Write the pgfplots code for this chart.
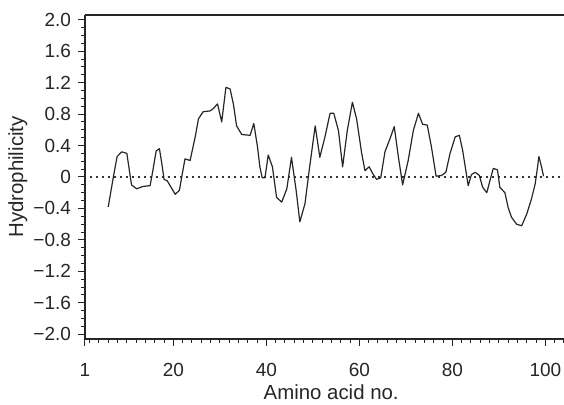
\documentclass[border=0pt]{standalone}
\usepackage{pgfplots}
\pgfplotsset{compat=1.18}
\usepackage{fontspec}
\setmainfont{Liberation Sans}

\begin{document}
\begin{tikzpicture}
\begin{axis}[
  scale only axis, width=239.5pt, height=162pt,
  at={(0,0)}, anchor=south west,
  xmin=1, xmax=104, ymin=-2.06, ymax=2.06,
  axis x line*=bottom, axis y line*=left,
  axis line style={line width=0.7pt, black!85},
  tick align=outside,
  major tick length=3.5pt, minor tick length=2pt,
  every tick/.style={black!85, line width=0.5pt},
  xtick={1,20,40,60,80,100},
  xticklabels={1,20,40,60,80,100},
  minor xtick={2,4,...,104},
  ytick={-2,-1.6,-1.2,-0.8,-0.4,0,0.4,0.8,1.2,1.6,2},
  yticklabels={−2.0,−1.6,−1.2,−0.8,−0.4,0,0.4,0.8,1.2,1.6,2.0},
  minor y tick num=3,
  tick label style={font=\fontsize{9.5}{11}\selectfont, text=black!85},
  xticklabel style={yshift=-5pt},
  xlabel={Amino acid no.},
  ylabel={Hydrophilicity},
  label style={font=\fontsize{10.2}{12}\selectfont, text=black!85},
  xlabel style={at={(axis description cs:0.514,-0.164)}, anchor=center},
  ylabel style={at={(axis description cs:-0.14,0.5)}, anchor=center, rotate=0},
  clip=false,
]
\draw[line width=0.9pt, black!85] (rel axis cs:0,1) -- (rel axis cs:1,1);
\addplot[black!80, line width=1pt, dash pattern=on 1pt off 2pt] coordinates {(2,0) (104,0)};
\addplot[black!85, line width=0.6pt, line join=round] coordinates {
(6.0,-0.38) (7.1,0.0) (7.9,0.26) (8.9,0.32) (10.0,0.30) (10.5,0.10) (11.0,-0.10)
(12.1,-0.15) (13.5,-0.12) (15.0,-0.11) (15.5,0.05) (16.3,0.33) (17.0,0.36)
(17.5,0.18) (18.0,-0.03) (18.7,-0.05) (19.4,-0.12) (20.4,-0.22) (21.3,-0.17)
(21.8,0.0) (22.5,0.23) (23.6,0.21) (24.7,0.51) (25.4,0.74) (26.4,0.83)
(27.9,0.84) (28.6,0.87) (29.5,0.93) (30.4,0.70) (31.3,1.14) (32.2,1.12)
(32.9,0.93) (33.6,0.65) (34.7,0.54) (36.5,0.53) (37.3,0.68) (38.1,0.38)
(38.6,0.13) (39.1,-0.01) (39.7,-0.01) (40.4,0.28) (41.3,0.13) (42.2,-0.26)
(43.3,-0.32) (44.4,-0.15) (45.4,0.25) (46.4,-0.17) (47.2,-0.57) (48.3,-0.34)
(49.2,0.08) (50.5,0.65) (51.5,0.25) (52.6,0.51) (53.7,0.81) (54.5,0.81)
(55.5,0.59) (56.4,0.13) (57.4,0.59) (58.5,0.95) (59.4,0.74) (60.5,0.30)
(61.2,0.08) (62.1,0.13) (62.9,0.04) (63.7,-0.03) (64.6,-0.01) (65.5,0.32)
(66.6,0.49) (67.5,0.64) (68.4,0.25) (69.3,-0.10) (70.5,0.21) (71.6,0.59)
(72.7,0.81) (73.6,0.67) (74.6,0.66) (75.5,0.38) (76.5,0.01) (77.7,0.02)
(78.6,0.06) (79.5,0.30) (80.6,0.51) (81.5,0.53) (82.2,0.34) (82.9,0.08)
(83.4,-0.11) (84.1,0.03) (84.9,0.06) (85.8,0.02) (86.5,-0.13) (87.4,-0.20)
(88.1,-0.04) (88.8,0.11) (89.7,0.09) (90.2,-0.13) (91.3,-0.20) (92.0,-0.39)
(92.7,-0.51) (93.8,-0.60) (94.9,-0.62) (96.0,-0.47) (97.0,-0.28) (97.8,-0.09)
(98.3,0.12) (98.6,0.26) (99.2,0.12) (99.6,0.01)
};
\end{axis}
\pgfresetboundingbox
\useasboundingbox (-42.5pt,-33pt) rectangle (239.5pt,169.5pt);
\end{tikzpicture}
\end{document}
